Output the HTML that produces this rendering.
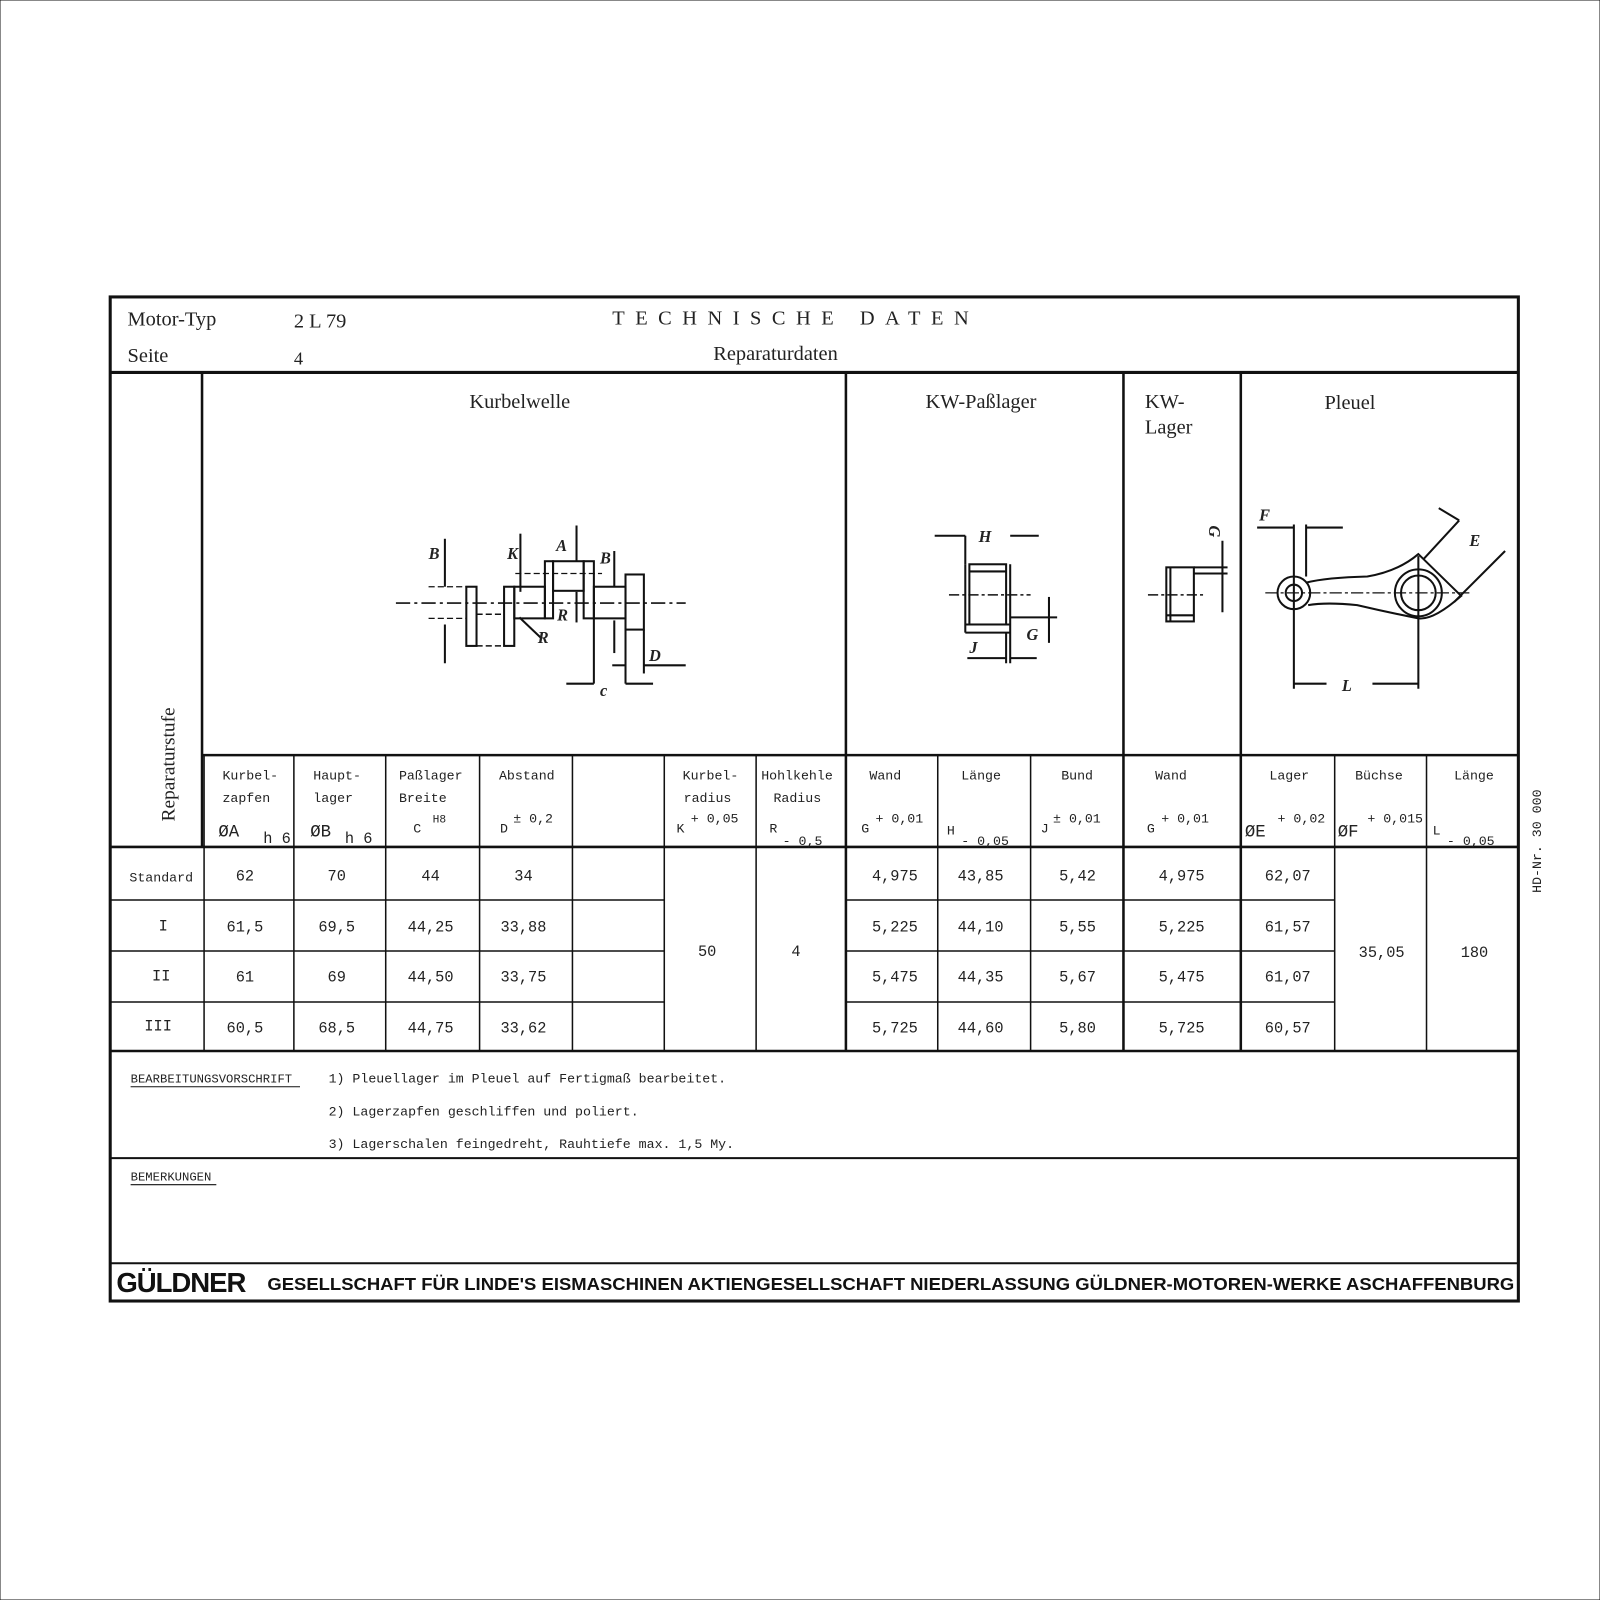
<!DOCTYPE html>
<html><head><meta charset="utf-8"><style>
html,body{margin:0;padding:0;background:#fff}
svg{display:block}
.s{font-family:"Liberation Serif",serif;fill:#222}
.m{font-family:"Liberation Mono",monospace;fill:#222;font-size:13px}
.d{font-family:"Liberation Mono",monospace;fill:#222;font-size:15px}
.f{font-family:"Liberation Sans",sans-serif;font-weight:bold;fill:#111}
line,rect,path,circle{stroke:#111;fill:none}
</style></head><body>
<svg width="1600" height="1600" viewBox="0 0 1600 1600" xmlns="http://www.w3.org/2000/svg">
<rect x="0" y="0" width="1600" height="1600" fill="#fff" stroke="none"/>
<g transform="scale(1.0204)">
<rect x="108" y="291" width="1380" height="984" stroke-width="3"/>
<line x1="108" y1="365" x2="1488" y2="365" stroke-width="3"/>
<line x1="198" y1="365" x2="198" y2="830" stroke-width="2.5"/>
<line x1="829" y1="365" x2="829" y2="1030" stroke-width="2.5"/>
<line x1="1101" y1="365" x2="1101" y2="1030" stroke-width="2.5"/>
<line x1="1216" y1="365" x2="1216" y2="1030" stroke-width="2.5"/>
<line x1="198" y1="740" x2="1488" y2="740" stroke-width="2.5"/>
<line x1="108" y1="830" x2="1488" y2="830" stroke-width="2.5"/>
<line x1="108" y1="1030" x2="1488" y2="1030" stroke-width="2.5"/>
<line x1="108" y1="1135" x2="1488" y2="1135" stroke-width="2"/>
<line x1="108" y1="1238" x2="1488" y2="1238" stroke-width="2"/>
<g stroke-width="1.5">
<line x1="200" y1="740" x2="200" y2="1030"/>
<line x1="288" y1="740" x2="288" y2="1030"/>
<line x1="378" y1="740" x2="378" y2="1030"/>
<line x1="470" y1="740" x2="470" y2="1030"/>
<line x1="561" y1="740" x2="561" y2="1030"/>
<line x1="651" y1="740" x2="651" y2="1030"/>
<line x1="741" y1="740" x2="741" y2="1030"/>
<line x1="919" y1="740" x2="919" y2="1030"/>
<line x1="1010" y1="740" x2="1010" y2="1030"/>
<line x1="1308" y1="740" x2="1308" y2="1030"/>
<line x1="1398" y1="740" x2="1398" y2="1030"/>
<line x1="108" y1="882" x2="651" y2="882"/><line x1="829" y1="882" x2="1308" y2="882"/>
<line x1="108" y1="932" x2="651" y2="932"/><line x1="829" y1="932" x2="1308" y2="932"/>
<line x1="108" y1="982" x2="651" y2="982"/><line x1="829" y1="982" x2="1308" y2="982"/>
</g>
<text x="125" y="319" class="s" font-size="20">Motor-Typ</text>
<text x="288" y="321" class="s" font-size="20">2 L 79</text>
<text x="125" y="355" class="s" font-size="20">Seite</text>
<text x="288" y="357" class="s" font-size="18">4</text>
<text x="600" y="318" class="s" font-size="20" letter-spacing="10.3">TECHNISCHE DATEN</text>
<text x="699" y="353" class="s" font-size="20">Reparaturdaten</text>
<text x="460" y="400" class="s" font-size="20">Kurbelwelle</text>
<text x="907" y="400" class="s" font-size="20">KW-Paßlager</text>
<text x="1122" y="400" class="s" font-size="20">KW-</text>
<text x="1122" y="425" class="s" font-size="20">Lager</text>
<text x="1298" y="401" class="s" font-size="20">Pleuel</text>
<text transform="translate(171,805) rotate(-90)" class="s" font-size="19">Reparaturstufe</text>
<g class="m">
<text x="218" y="764">Kurbel-</text><text x="218" y="786">zapfen</text>
<text x="214" y="820" font-size="17">ØA</text><text x="258" y="826" font-size="15">h 6</text>
<text x="307" y="764">Haupt-</text><text x="307" y="786">lager</text>
<text x="304" y="820" font-size="17">ØB</text><text x="338" y="826" font-size="15">h 6</text>
<text x="391" y="764">Paßlager</text><text x="391" y="786">Breite</text>
<text x="405" y="816">C</text><text x="424" y="806" font-size="11">H8</text>
<text x="489" y="764">Abstand</text><text x="490" y="816">D</text><text x="503" y="806">± 0,2</text>
<text x="669" y="764">Kurbel-</text><text x="670" y="786">radius</text>
<text x="663" y="816">K</text><text x="677" y="806">+ 0,05</text>
<text x="746" y="764">Hohlkehle</text><text x="758" y="786">Radius</text>
<text x="754" y="816">R</text><text x="767" y="828">- 0,5</text>
<text x="852" y="764">Wand</text><text x="844" y="816">G</text><text x="858" y="806">+ 0,01</text>
<text x="942" y="764">Länge</text><text x="928" y="818">H</text><text x="942" y="828">- 0,05</text>
<text x="1040" y="764">Bund</text><text x="1020" y="816">J</text><text x="1032" y="806">± 0,01</text>
<text x="1132" y="764">Wand</text><text x="1124" y="816">G</text><text x="1138" y="806">+ 0,01</text>
<text x="1244" y="764">Lager</text><text x="1220" y="820" font-size="17">ØE</text><text x="1252" y="806">+ 0,02</text>
<text x="1328" y="764">Büchse</text><text x="1311" y="820" font-size="17">ØF</text><text x="1340" y="806">+ 0,015</text>
<text x="1425" y="764">Länge</text><text x="1404" y="818">L</text><text x="1418" y="828">- 0,05</text>
</g>
<g class="d" text-anchor="middle">
<text x="158" y="864" font-size="13">Standard</text><text x="160" y="912">I</text><text x="158" y="961">II</text><text x="155" y="1010">III</text>
<text x="240" y="863">62</text><text x="330" y="863">70</text><text x="422" y="863">44</text><text x="513" y="863">34</text>
<text x="240" y="913">61,5</text><text x="330" y="913">69,5</text><text x="422" y="913">44,25</text><text x="513" y="913">33,88</text>
<text x="240" y="962">61</text><text x="330" y="962">69</text><text x="422" y="962">44,50</text><text x="513" y="962">33,75</text>
<text x="240" y="1012">60,5</text><text x="330" y="1012">68,5</text><text x="422" y="1012">44,75</text><text x="513" y="1012">33,62</text>
<text x="693" y="937">50</text><text x="780" y="937">4</text>
<text x="877" y="863">4,975</text><text x="961" y="863">43,85</text><text x="1056" y="863">5,42</text><text x="1158" y="863">4,975</text><text x="1262" y="863">62,07</text>
<text x="877" y="913">5,225</text><text x="961" y="913">44,10</text><text x="1056" y="913">5,55</text><text x="1158" y="913">5,225</text><text x="1262" y="913">61,57</text>
<text x="877" y="962">5,475</text><text x="961" y="962">44,35</text><text x="1056" y="962">5,67</text><text x="1158" y="962">5,475</text><text x="1262" y="962">61,07</text>
<text x="877" y="1012">5,725</text><text x="961" y="1012">44,60</text><text x="1056" y="1012">5,80</text><text x="1158" y="1012">5,725</text><text x="1262" y="1012">60,57</text>
<text x="1354" y="938">35,05</text><text x="1445" y="938">180</text>
</g>
<g class="m">
<text x="128" y="1061" font-size="12">BEARBEITUNGSVORSCHRIFT</text>
<line x1="128" y1="1065" x2="294" y2="1065" stroke-width="1"/>
<text x="322" y="1061">1)  Pleuellager  im Pleuel auf Fertigmaß bearbeitet.</text>
<text x="322" y="1093">2)  Lagerzapfen  geschliffen und poliert.</text>
<text x="322" y="1125">3)  Lagerschalen  feingedreht, Rauhtiefe max. 1,5 My.</text>
<text x="128" y="1157" font-size="12">BEMERKUNGEN</text>
<line x1="128" y1="1161" x2="212" y2="1161" stroke-width="1"/>
</g>
<text x="114" y="1266" class="f" font-size="27" letter-spacing="-1">GÜLDNER</text>
<text x="262" y="1264" class="f" font-size="17.5" textLength="1222" lengthAdjust="spacingAndGlyphs">GESELLSCHAFT FÜR LINDE'S EISMASCHINEN AKTIENGESELLSCHAFT NIEDERLASSUNG GÜLDNER-MOTOREN-WERKE ASCHAFFENBURG</text>
<text transform="translate(1510,875) rotate(-90)" class="m" font-size="11">HD-Nr. 30 000</text>
<g stroke-width="2">
<line x1="388" y1="591" x2="672" y2="591" stroke-dasharray="14,4,3,4" stroke-width="1.5"/>
<rect x="457" y="575" width="10" height="58"/>
<line x1="467" y1="602" x2="494" y2="602" stroke-dasharray="6,3" stroke-width="1.5"/>
<line x1="467" y1="633" x2="494" y2="633" stroke-dasharray="6,3" stroke-width="1.5"/>
<rect x="494" y="575" width="10" height="58"/>
<rect x="504" y="575" width="30" height="31"/>
<rect x="534" y="550" width="8" height="56"/>
<rect x="542" y="550" width="30" height="29"/>
<rect x="572" y="550" width="10" height="56"/>
<rect x="582" y="575" width="31" height="31"/>
<rect x="613" y="563" width="18" height="54"/>
<line x1="631" y1="617" x2="631" y2="660"/>
<line x1="613" y1="617" x2="613" y2="670"/>
<line x1="582" y1="606" x2="582" y2="670"/>
<line x1="436" y1="528" x2="436" y2="575"/><line x1="436" y1="612" x2="436" y2="650"/>
<line x1="420" y1="575" x2="457" y2="575" stroke-dasharray="6,3" stroke-width="1.2"/>
<line x1="420" y1="606" x2="457" y2="606" stroke-dasharray="6,3" stroke-width="1.2"/>
<line x1="510" y1="523" x2="510" y2="580"/>
<line x1="505" y1="562" x2="590" y2="562" stroke-dasharray="6,3" stroke-width="1.2"/>
<line x1="565" y1="515" x2="565" y2="550"/>
<line x1="565" y1="580" x2="565" y2="610"/>
<line x1="602" y1="540" x2="602" y2="575"/><line x1="602" y1="608" x2="602" y2="640"/>
<line x1="509" y1="605" x2="530" y2="625"/>
<line x1="555" y1="670" x2="582" y2="670"/><line x1="613" y1="670" x2="640" y2="670"/>
<line x1="600" y1="652" x2="613" y2="652"/><line x1="631" y1="652" x2="672" y2="652"/>
</g>
<g class="s" font-size="16" font-style="italic" font-weight="bold">
<text x="420" y="548">B</text><text x="497" y="548">K</text><text x="545" y="540">A</text><text x="588" y="552">B</text>
<text x="527" y="630">R</text><text x="546" y="608">R</text><text x="588" y="682">c</text><text x="636" y="648">D</text>
</g>
<g stroke-width="2">
<rect x="950" y="553" width="36" height="59"/>
<line x1="946" y1="553" x2="946" y2="620"/><line x1="990" y1="553" x2="990" y2="650"/>
<line x1="950" y1="560" x2="986" y2="560"/>
<line x1="946" y1="612" x2="990" y2="612"/>
<line x1="946" y1="620" x2="990" y2="620"/>
<line x1="946" y1="525" x2="946" y2="553"/><line x1="916" y1="525" x2="946" y2="525"/><line x1="990" y1="525" x2="1018" y2="525"/>
<line x1="930" y1="583" x2="1010" y2="583" stroke-dasharray="10,3,3,3" stroke-width="1.5"/>
<line x1="990" y1="605" x2="1036" y2="605"/><line x1="1028" y1="585" x2="1028" y2="630"/>
<line x1="986" y1="620" x2="986" y2="650"/>
<line x1="948" y1="645" x2="986" y2="645"/><line x1="990" y1="645" x2="1016" y2="645"/>
</g>
<g class="s" font-size="16" font-style="italic" font-weight="bold"><text x="959" y="531">H</text><text x="950" y="640">J</text><text x="1006" y="627">G</text></g>
<g stroke-width="2">
<rect x="1143" y="556" width="27" height="53"/>
<line x1="1147" y1="556" x2="1147" y2="609"/>
<line x1="1143" y1="603" x2="1170" y2="603"/>
<line x1="1170" y1="556" x2="1203" y2="556"/><line x1="1170" y1="562" x2="1203" y2="562"/>
<line x1="1198" y1="530" x2="1198" y2="600"/>
<line x1="1125" y1="583" x2="1180" y2="583" stroke-dasharray="10,3,3,3" stroke-width="1.5"/>
</g>
<text x="1180" y="530" class="s" font-size="16" font-style="italic" font-weight="bold" transform="rotate(90 1190 525)">G</text>
<g stroke-width="2">
<circle cx="1268" cy="581" r="16"/><circle cx="1268" cy="581" r="8"/>
<circle cx="1390" cy="581" r="23"/><circle cx="1390" cy="581" r="17"/>
<path d="M1280 571 Q1300 566 1340 565 Q1370 560 1390 543 L1432 584 Q1405 608 1390 606 Q1360 600 1330 593 Q1300 590 1282 593"/>
<line x1="1240" y1="581" x2="1440" y2="581" stroke-dasharray="12,3,3,3" stroke-width="1.2"/>
<line x1="1268" y1="514" x2="1268" y2="675"/><line x1="1280" y1="514" x2="1280" y2="565"/>
<line x1="1232" y1="517" x2="1268" y2="517"/><line x1="1280" y1="517" x2="1316" y2="517"/>
<line x1="1390" y1="545" x2="1390" y2="675"/>
<line x1="1268" y1="670" x2="1300" y2="670"/><line x1="1345" y1="670" x2="1390" y2="670"/>
<line x1="1395" y1="548" x2="1430" y2="510"/><line x1="1410" y1="498" x2="1430" y2="510"/>
<line x1="1425" y1="590" x2="1475" y2="540"/>
</g>
<g class="s" font-size="16" font-style="italic" font-weight="bold"><text x="1234" y="510">F</text><text x="1315" y="677">L</text><text x="1440" y="535">E</text></g>
</g>
</svg>
</body></html>
